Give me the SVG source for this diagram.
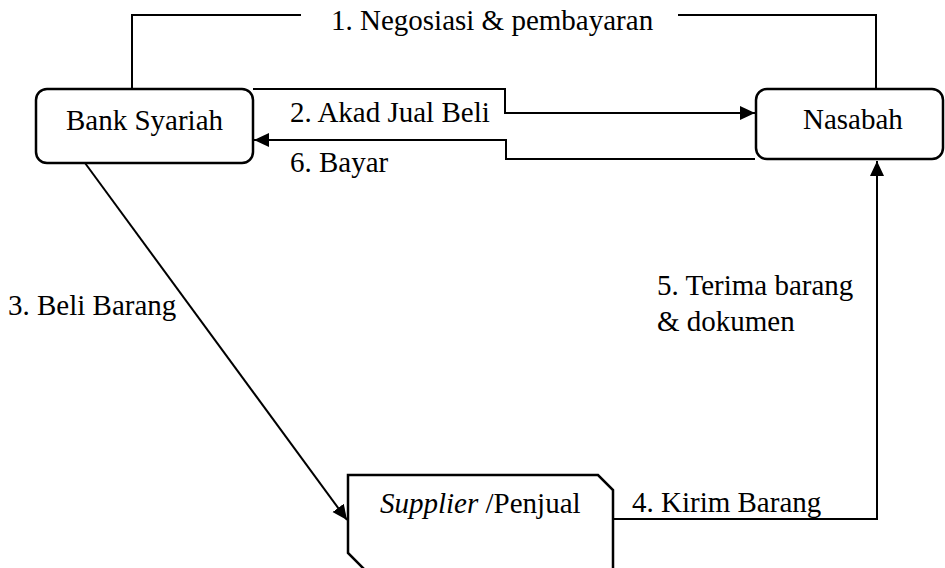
<svg xmlns="http://www.w3.org/2000/svg" width="945" height="568" viewBox="0 0 945 568">
<style>
text{font-family:"Liberation Serif","Times New Roman",serif;font-size:29px;fill:#000}
.box{fill:#fff;stroke:#000;stroke-width:2.5}
.ln{fill:none;stroke:#000;stroke-width:2}
</style>
<defs>
<marker id="ah" markerUnits="userSpaceOnUse" markerWidth="16" markerHeight="16" refX="15" refY="7" orient="auto">
<path d="M0,0 L15,7 L0,14 Z" fill="#000"/>
</marker>
</defs>
<rect width="945" height="568" fill="#fff"/>
<g id="connectors">
<path class="ln" d="M132,89 V15 H301"/>
<path class="ln" d="M678,15 H876 V89"/>
<path class="ln" d="M253,89 H505 V113 H755" marker-end="url(#ah)"/>
<path class="ln" d="M755,159 H506 V140 H254" marker-end="url(#ah)"/>
<path class="ln" d="M85,163 L347,520" marker-end="url(#ah)"/>
<path class="ln" d="M613,519 H877 V161" marker-end="url(#ah)"/>
</g>
<g id="labels">
<text x="331" y="30">1. Negosiasi &amp; pembayaran</text>
<text x="290" y="122">2. Akad Jual Beli</text>
<text x="290" y="172">6. Bayar</text>
<text x="8" y="315">3. Beli Barang</text>
<text x="657" y="295">5. Terima barang</text>
<text x="657" y="331">&amp; dokumen</text>
<text x="632" y="512">4. Kirim Barang</text>
</g>
<g id="bank">
<rect class="box" x="36" y="89" width="217" height="74" rx="11"/>
<text x="66" y="130">Bank Syariah</text>
</g>
<g id="nasabah">
<rect class="box" x="756" y="89" width="187" height="70" rx="11"/>
<text x="803" y="129">Nasabah</text>
</g>
<g id="supplier">
<path class="box" d="M348,475 H598 L613,490 V580 H375 L348,553 Z"/>
<text x="380" y="513"><tspan font-style="italic">Supplier</tspan> /Penjual</text>
</g>
</svg>
